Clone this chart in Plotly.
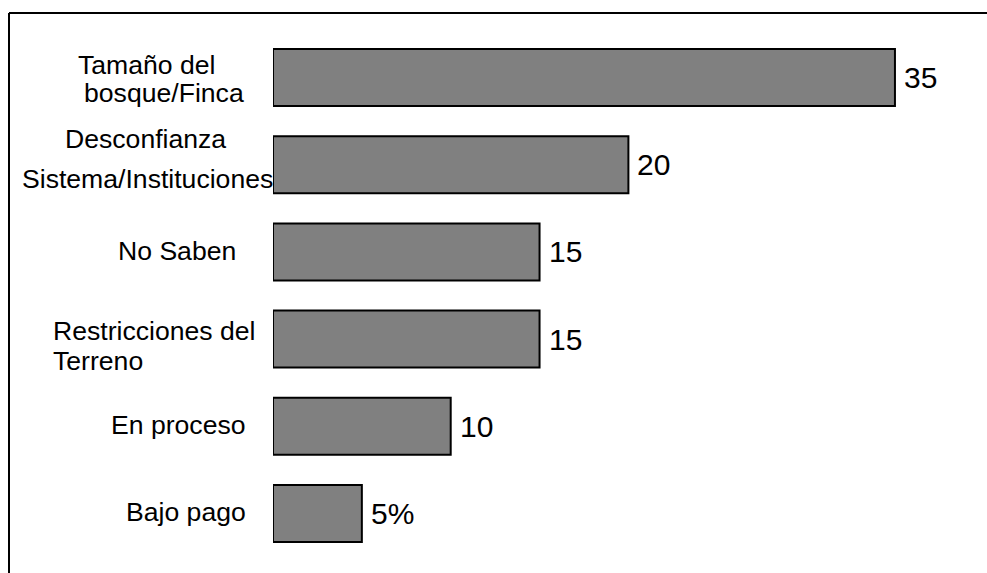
import plotly.graph_objects as go

# Reasons for not joining the programme (percent of respondents)
categories = [
    "Tamaño del bosque/Finca",
    "Desconfianza Sistema/Instituciones",
    "No Saben",
    "Restricciones del Terreno",
    "En proceso",
    "Bajo pago",
]
values = [35, 20, 15, 15, 10, 5]
value_labels = ["35", "20", "15", "15", "10", "5%"]

# How each category name is broken across lines on the left side
label_lines = [
    ["Tamaño del", "bosque/Finca"],
    ["Desconfianza", "Sistema/Instituciones"],
    ["No Saben"],
    ["Restricciones del", "Terreno"],
    ["En proceso"],
    ["Bajo pago"],
]

W, H = 987, 573
M_L, M_R, M_T, M_B = 273, 0, 34, 16
PLOT_W = W - M_L - M_R
PLOT_H = H - M_T - M_B
X_MAX = 40.18

FONT = "Liberation Sans, Arial, sans-serif"


def px_to_paper_x(px):
    return (px - M_L) / PLOT_W


def px_to_paper_y(py):
    return (H - M_B - py) / PLOT_H


fig = go.Figure(
    go.Bar(
        x=values,
        y=categories,
        orientation="h",
        marker=dict(color="#808080", line=dict(color="#000000", width=2)),
        hoverinfo="skip",
    )
)

# Per-line placement of the category text: (anchor, x pixel, vertical offset from bar centre)
line_layout = [
    [("left", 76, -13), ("left", 82, 15)],
    [("center", 145, -26), ("center", 147, 14)],
    [("right", 238, -1)],
    [("left", 51, -8), ("left", 51, 22)],
    [("right", 248, -1)],
    [("right", 248, -1)],
]

annotations = []
for cat, lines, places in zip(categories, label_lines, line_layout):
    for text, (anchor, xpx, dy) in zip(lines, places):
        annotations.append(
            dict(
                text=text,
                xref="paper",
                x=0,
                xshift=xpx - M_L,
                xanchor=anchor,
                yref="y",
                y=cat,
                yshift=-dy,
                yanchor="middle",
                showarrow=False,
                font=dict(family=FONT, size=26.6, color="#000000"),
            )
        )

for cat, val, lab in zip(categories, values, value_labels):
    annotations.append(
        dict(
            text=lab,
            xref="x",
            x=val,
            xshift=7,
            xanchor="left",
            yref="y",
            y=cat,
            yanchor="middle",
            showarrow=False,
            font=dict(family=FONT, size=30, color="#000000"),
        )
    )

# Outer frame: top and left edges
frame_top = px_to_paper_y(13)
shapes = [
    dict(type="line", xref="paper", yref="paper",
         x0=px_to_paper_x(9), x1=px_to_paper_x(W + 2), y0=frame_top, y1=frame_top,
         line=dict(color="#000000", width=2)),
    dict(type="line", xref="paper", yref="paper",
         x0=px_to_paper_x(9), x1=px_to_paper_x(9), y0=frame_top, y1=px_to_paper_y(H + 2),
         line=dict(color="#000000", width=2)),
]

fig.update_layout(
    width=W,
    height=H,
    margin=dict(l=M_L, r=M_R, t=M_T, b=M_B, pad=0),
    paper_bgcolor="#ffffff",
    plot_bgcolor="#ffffff",
    showlegend=False,
    bargap=0.346,
    annotations=annotations,
    shapes=shapes,
    xaxis=dict(range=[0, X_MAX], visible=False, fixedrange=True),
    yaxis=dict(
        type="category",
        categoryorder="array",
        categoryarray=categories,
        range=[len(categories) - 0.5, -0.5],
        visible=False,
        fixedrange=True,
    ),
)

fig.write_html("out.html", config={"displayModeBar": False})
